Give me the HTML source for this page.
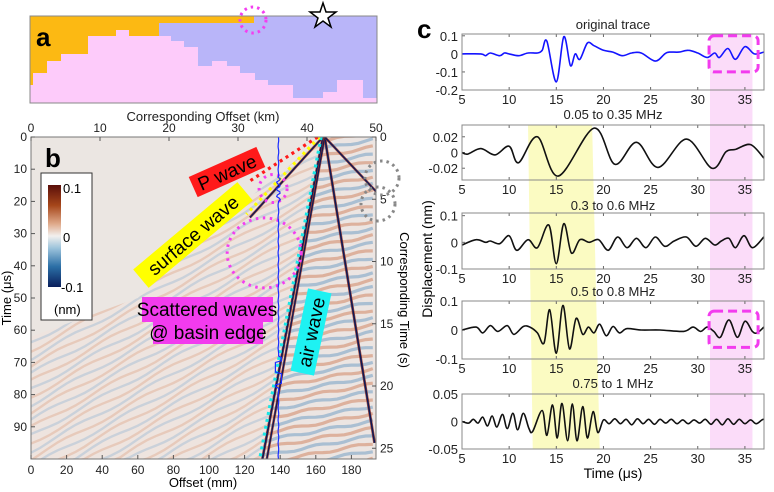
<!DOCTYPE html>
<html><head><meta charset="utf-8">
<style>
html,body{margin:0;padding:0;background:#fff;width:774px;height:492px;overflow:hidden;}
svg{display:block;font-family:"Liberation Sans",Arial,sans-serif;}
</style></head>
<body>
<svg id="fig" width="774" height="492" viewBox="0 0 774 492" xmlns="http://www.w3.org/2000/svg">
<defs>
  <linearGradient id="cbar" x1="0" y1="0" x2="0" y2="1">
    <stop offset="0" stop-color="#5a0f0a"/>
    <stop offset="0.2" stop-color="#a6461a"/>
    <stop offset="0.38" stop-color="#dfa98a"/>
    <stop offset="0.5" stop-color="#f2f0ee"/>
    <stop offset="0.62" stop-color="#9cc3db"/>
    <stop offset="0.8" stop-color="#2b6fa6"/>
    <stop offset="1" stop-color="#0a1f5c"/>
  </linearGradient>
  <clipPath id="bclip"><rect x="31" y="137" width="345" height="322"/></clipPath>
  <clipPath id="colclip"><polygon id="colpoly" points=""/></clipPath>
  <clipPath id="wedgeclip"><polygon id="wedgepoly" points=""/></clipPath>
</defs>

<!-- Panel a -->
<g id="panelA">
  <rect x="30" y="16" width="347" height="87" fill="#b9b5f9"/>
  <polygon fill="#fcb913" points="30,16 254,16 254,23 159,23 159,103 30,103"/>
  <polygon fill="#fdcbfa"
   points="30,103 30,85 33,85 33,73 47,73 47,61 61,61 61,54 88,54 88,36 116,36 116,30 129,30 129,36 171,36 171,41 184,41 184,47 198,47 198,66 212,66 212,61 227,61 227,66 240,66 240,73 255,73 255,80 268,80 268,85 293,85 293,98 323,98 323,92 337,92 337,80 363,80 363,98 377,98 377,103"/>
  <rect x="30" y="16" width="347" height="87" fill="none" stroke="#888" stroke-width="1"/>
  <text x="36" y="46" font-size="26" font-weight="bold">a</text>
  <circle cx="253" cy="20" r="13" fill="none" stroke="#f33ef0" stroke-width="3" stroke-dasharray="2.5,4"/>
  <polygon fill="#fff" stroke="#000" stroke-width="1.5"
   points="323,3 326,12 336,12 328,18 331,27 323,21 315,27 318,18 310,12 320,12"/>
  <text x="203" y="121" font-size="13" text-anchor="middle" fill="#222">Corresponding Offset (km)</text>
</g>

<!-- Panel b -->
<g id="panelB">
  <rect x="31" y="137" width="345" height="322" fill="#ebe6e2"/>
  <g id="heat" clip-path="url(#bclip)"></g>
  <g id="events" clip-path="url(#bclip)"></g>
  <rect x="31" y="137" width="345" height="322" fill="none" stroke="#777" stroke-width="1"/>
  <g id="baxes"></g>
  <text x="45" y="167" font-size="26" font-weight="bold">b</text>
  <g>
    <rect x="41" y="173" width="51" height="147" fill="#fff" stroke="#333" stroke-width="1"/>
    <rect x="48" y="185" width="13" height="102" fill="url(#cbar)"/>
    <text x="63" y="193" font-size="13">0.1</text>
    <text x="63" y="242" font-size="13">0</text>
    <text x="61" y="292" font-size="13">-0.1</text>
    <text x="54" y="314" font-size="13">(nm)</text>
  </g>
  <g transform="translate(227,172) rotate(-24)">
    <rect x="-37" y="-11" width="74" height="22" fill="#ff1a1a"/>
    <text x="0" y="7" font-size="19" text-anchor="middle">P wave</text>
  </g>
  <g transform="translate(193,235) rotate(-40)">
    <rect x="-68" y="-12" width="136" height="24" fill="#ffff00"/>
    <text x="0" y="7" font-size="19" text-anchor="middle">surface wave</text>
  </g>
  <g transform="translate(311,332) rotate(-78)">
    <rect x="-42" y="-12" width="84" height="24" fill="#1ef2f2"/>
    <text x="0" y="7" font-size="19" text-anchor="middle">air wave</text>
  </g>
  <g>
    <rect x="142" y="297" width="131" height="25" fill="#f23bee"/>
    <rect x="153" y="321" width="110" height="23" fill="#f23bee"/>
    <text x="207" y="316" font-size="19" text-anchor="middle">Scattered waves</text>
    <text x="208" y="339" font-size="19" text-anchor="middle">@ basin edge</text>
  </g>
  <text transform="translate(11,298) rotate(-90)" font-size="13" text-anchor="middle">Time (μs)</text>
  <text x="203" y="487" font-size="13" text-anchor="middle">Offset (mm)</text>
  <text transform="translate(400,300) rotate(90)" font-size="13" text-anchor="middle">Corresponding Time (s)</text>
</g>

<!-- Panel c -->
<g id="panelC">
  <text x="417" y="38" font-size="26" font-weight="bold">c</text>
  <g id="cbands"></g>
  <g id="cplots"></g>
  <text transform="translate(432,259) rotate(-90)" font-size="14" text-anchor="middle">Displacement (nm)</text>
  <text x="613" y="478" font-size="14" text-anchor="middle">Time (μs)</text>
</g>
</svg>

<script>
// ---------- Panel c data (time µs, displacement nm) ----------
const traceOrigT = [5,7,7.5,8,9,9.5,10,11,12,13,13.5,14,15,15.8,16.5,17,17.5,18.3,19,20,21,22,23,24,25.5,26.5,27,28,29,30,31,31.8,32.3,33.2,34,35,36,37];
const traceOrigV = [0,0,-0.01,0.005,-0.01,0.005,0,-0.01,0.005,0.005,0.02,0.07,-0.155,0.095,-0.065,0,-0.03,0.06,0.045,0.02,0.01,-0.01,0.005,0.005,-0.04,0,0.01,0.01,0.02,0.005,-0.02,0.005,-0.02,0.03,-0.03,0.04,0,0.01];
const traceLowT = [5,5.6,7,8.5,10,11,13,15.2,19,21.2,23.5,25.8,28.8,31.5,33,34,35.6,37];
const traceLowV = [0,-0.002,0.005,-0.003,0.008,-0.013,0.02,-0.03,0.031,-0.015,0.013,-0.019,0.017,-0.02,0.001,0.004,0.01,-0.007];
const traceMidT = [5,6.5,7.5,8,9,10,10.8,12,13,14.2,15,15.8,16.6,17.5,18.5,19.5,20.5,21.5,22.5,23.5,24.5,25.5,26.5,27.5,28.8,29.8,30.8,31.8,32.5,33.3,34,34.9,35.8,37];
const traceMidV = [-0.01,0.01,0,0.005,-0.005,0.025,-0.03,0.01,-0.02,0.065,-0.08,0.07,-0.04,0.01,0,0.01,-0.03,0.02,-0.02,0.015,-0.02,0.02,-0.015,0.005,0.02,-0.015,0.015,-0.01,0.005,0.015,-0.02,0.025,-0.02,0.02];
const traceHighT = [5,6.5,7.2,8,8.8,9.8,10.5,11.5,12.2,13,13.7,14.3,15,15.7,16.4,17.1,17.8,18.4,19,19.6,20.3,21,21.7,22.5,24,26,28.5,29.5,30.3,31,31.7,32.4,33.3,34.2,35,35.8,36.3,37];
const traceHighV = [0,0.01,-0.01,0.015,-0.005,0.015,-0.015,0.012,0.01,-0.01,-0.045,0.07,-0.08,0.085,-0.065,0.04,-0.015,0.01,-0.01,0.02,-0.02,0.012,-0.01,0.005,0,0,-0.005,0.01,-0.005,0.01,-0.005,-0.025,0.035,-0.025,0.03,-0.005,-0.01,0.01];
const traceTopT = [5,5.7,6.2,6.7,7.2,7.7,8.2,8.7,9.3,9.8,10.4,10.9,11.5,12.1,12.5,13.5,14,14.6,15.1,15.6,16.2,16.7,17.2,17.8,18.3,18.9,19.4,20,20.6,21.2,21.8,22.4,23,23.6,24.2,24.8,25.4,26,26.6,27.2,27.8,28.4,29,29.6,30.2,30.8,31.4,32,32.6,33.2,33.8,34.4,35,35.6,36.2,36.8,37];
const traceTopV = [0,-0.003,0.004,-0.003,0.008,-0.008,0.01,-0.01,0.013,-0.013,0.015,-0.015,0.015,-0.013,-0.018,0.02,-0.025,0.03,-0.03,0.033,-0.035,0.032,-0.035,0.027,-0.03,0.018,-0.02,0.003,-0.004,0.005,-0.004,0.004,-0.006,0.005,-0.004,0.004,-0.005,0.004,-0.003,0.004,-0.004,0.003,-0.004,0.003,-0.003,0.004,-0.005,0.004,-0.006,0.005,-0.005,0.004,-0.004,0.003,-0.004,0.003,0.004];
const subTitles = ["original trace","0.05 to 0.35 MHz","0.3 to 0.6 MHz","0.5 to 0.8 MHz","0.75 to 1 MHz"];
const xTicksC = [5,10,15,20,25,30,35];
const yTicksC = [[0.1,0,-0.1,-0.2],[0.02,0,-0.02],[0.1,0,-0.1],[0.1,0,-0.1],[0.05,0,-0.05]];
const yTickLabelsC = [["0.1","0","-0.1","-0.2"],["0.02","0","-0.02"],["0.1","0","-0.1"],["0.1","0","-0.1"],["0.05","0","-0.05"]];
const yRangesC = [[-0.2,0.11],[-0.035,0.035],[-0.1,0.11],[-0.1,0.1],[-0.05,0.05]];
const yellowBand = [[12,18.8],[12.5,19.6]];
const pinkBand = [31.3,35.8];
const dashBoxT = [31.2,36.4];
const dashBoxV = [[-0.1,0.1],[-0.06,0.065]];

// ---------- Panel b data ----------
const offTicks = [0,20,40,60,80,100,120,140,160,180];
const kmTicks = [0,10,20,30,40,50];
const timeTicks = [0,10,20,30,40,50,60,70,80,90];
const secTicks = [0,5,10,15,20,25];
const airLeft = [[164,0],[130,100]];
const airLeft2 = [[165,0],[132.5,100]];
const airRight = [[165,0],[193,95]];
const pLeft = [[164,0],[123,25]];
const pRight = [[165,0],[194,17]];
const traceOffset = 139;

const NS="http://www.w3.org/2000/svg";
function mk(tag, attrs, parent){const e=document.createElementNS(NS,tag);for(const k in attrs)e.setAttribute(k,attrs[k]);parent.appendChild(e);return e;}

const bx=mm=>31+mm*1.78, by=us=>137+us*3.22, bkm=km=>31+km*6.9, bs=s=>137+s*12.45;
const clampY=y=>Math.max(135,Math.min(461,y));
const baxes=document.getElementById('baxes');
offTicks.forEach(v=>{mk('line',{x1:bx(v),x2:bx(v),y1:459,y2:455,stroke:'#555'},baxes);const t=mk('text',{x:bx(v),y:474,'font-size':12,'text-anchor':'middle',fill:'#222'},baxes);t.textContent=v;

});
kmTicks.forEach(v=>{mk('line',{x1:bkm(v),x2:bkm(v),y1:137,y2:141,stroke:'#555'},baxes);const t=mk('text',{x:bkm(v),y:132,'font-size':12,'text-anchor':'middle',fill:'#222'},baxes);t.textContent=v;

});
timeTicks.forEach(v=>{mk('line',{x1:31,x2:35,y1:by(v),y2:by(v),stroke:'#555'},baxes);const t=mk('text',{x:27,y:by(v)+4,'font-size':12,'text-anchor':'end',fill:'#222'},baxes);t.textContent=v;

});
secTicks.forEach(v=>{mk('line',{x1:372,x2:376,y1:bs(v),y2:bs(v),stroke:'#555'},baxes);const t=mk('text',{x:380,y:bs(v)+4,'font-size':12,fill:'#222'},baxes);t.textContent=v;

});

// heatmap texture
const heat=document.getElementById('heat');
const colPts=[[bx(165),by(0)],[bx(120),by(20)],[bx(60),by(50)],[bx(0),by(62)],[bx(0),by(100)],[bx(194),by(100)],[bx(194),by(0)]];
document.getElementById('colpoly').setAttribute('points',colPts.map(p=>p.join(',')).join(' '));
const wedgePts=[[bx(165),by(0)],[bx(130),by(100)],[bx(193),by(100)],[bx(194),by(0)]];
document.getElementById('wedgepoly').setAttribute('points',wedgePts.map(p=>p.join(',')).join(' '));
const gFaint=mk('g',{'clip-path':'url(#colclip)'},heat);
mk('rect',{x:31,y:137,width:345,height:322,fill:'#eee4df'},gFaint);
for(let k=-22;k<42;k++){
  const t0=k*2.4;
  let d='';
  for(let mm=0;mm<=194;mm+=5){const t=t0+(165-mm)*0.3+0.6*Math.sin(mm/7+k);d+=(mm?'L':'M')+bx(mm).toFixed(1)+','+clampY(by(t)).toFixed(1);}
  mk('path',{d:d,fill:'none',stroke:(k%2?'#d7875f':'#6fa3cc'),'stroke-width':2.4,opacity:0.28},gFaint);
}
const gW=mk('g',{'clip-path':'url(#wedgeclip)'},heat);
mk('rect',{x:31,y:137,width:345,height:322,fill:'#ece5e2'},gW);
for(let k=-4;k<44;k++){
  const t0=k*2.3;
  let d='';
  for(let mm=120;mm<=194;mm+=4){const t=t0+(200-mm)*0.1+0.4*Math.sin(mm/4+k);d+=(mm>120?'L':'M')+bx(mm).toFixed(1)+','+clampY(by(t)).toFixed(1);}
  mk('path',{d:d,fill:'none',stroke:(Math.abs(k)%2?'#c9683f':'#4f8bbd'),'stroke-width':3.2,opacity:0.42},gW);
}

// wave events
const ev=document.getElementById('events');
function evLine(seg,name,w){
  const a=seg[0],b=seg[1];
  mk('line',{x1:bx(a[0]),y1:by(a[1]),x2:bx(b[0]),y2:by(b[1]),stroke:'#9a2a1a','stroke-width':w+1.2,opacity:0.8},ev);
  const l=mk('line',{x1:bx(a[0]),y1:by(a[1]),x2:bx(b[0]),y2:by(b[1]),stroke:'#101a55','stroke-width':w},ev);
  
  
}
evLine(airLeft,'air-wave-left',1.6);
evLine(airLeft2,'air-wave-left-2',1.3);
evLine(airRight,'air-wave-right',1.6);
evLine(pLeft,'p-wave-left',1.4);
evLine(pRight,'p-wave-right',1.4);
function dots(a,b,color,name){const l=mk('line',{x1:bx(a[0]),y1:by(a[1]),x2:bx(b[0]),y2:by(b[1]),stroke:color,'stroke-width':3.2,'stroke-dasharray':'3,4'},ev);

}
dots([163,0],[128.5,100],'#19e6e6','air-wave-guide');
dots([162,0],[121,24],'#ffff00','surface-wave-guide');
dots([161,0],[122,14],'#ff1a1a','p-wave-guide');
const c1=mk('circle',{cx:bx(136),cy:by(16),r:14,fill:'none',stroke:'#f33ef0','stroke-width':3,'stroke-dasharray':'2.5,4.5'},ev);


const c2=mk('ellipse',{cx:bx(131),cy:by(36),rx:37,ry:35,fill:'none',stroke:'#f33ef0','stroke-width':3,'stroke-dasharray':'2.5,4.5'},ev);


const gArc=document.getElementById('panelB');
const ga1=mk('circle',{cx:382,cy:178,r:17,fill:'none',stroke:'#888','stroke-width':3,'stroke-dasharray':'2.5,4'},gArc);


const ga2=mk('circle',{cx:378,cy:204,r:17,fill:'none',stroke:'#888','stroke-width':3,'stroke-dasharray':'2.5,4'},gArc);


let bd='M'+bx(traceOffset)+','+by(0);
for(let t=0;t<=100;t+=0.5){let v=0.3*Math.sin(t*1.7);if(t>12&&t<20)v=2*Math.sin(t*3);if(t>68&&t<78)v=-3*Math.sign(Math.sin(t*0.9));bd+='L'+(bx(traceOffset)+v).toFixed(1)+','+by(t).toFixed(1);}
const bt=mk('path',{d:bd,fill:'none',stroke:'#1a2cff','stroke-width':1.2},ev);



// ---------- panel c ----------
const cx=t=>462+(t-5)*9.43;
const plotsY=[[34,90],[125,180],[213,269],[301,359],[394,449]];
const titleY=[29,119,210,296,388];
const traces=[[traceOrigT,traceOrigV],[traceLowT,traceLowV],[traceMidT,traceMidV],[traceHighT,traceHighV],[traceTopT,traceTopV]];
const cb=document.getElementById('cbands'), cp=document.getElementById('cplots');
const yb=mk('polygon',{points:`${cx(yellowBand[0][0])},125 ${cx(yellowBand[0][1])},125 ${cx(yellowBand[1][1])},449 ${cx(yellowBand[1][0])},449`,fill:'#fbfbc2'},cb);


const pb=mk('rect',{x:cx(pinkBand[0]),y:34,width:cx(pinkBand[1])-cx(pinkBand[0]),height:415,fill:'#fbdcf9'},cb);



function smooth(pts){let d='M'+pts[0][0].toFixed(1)+','+pts[0][1].toFixed(1);
  for(let i=0;i<pts.length-1;i++){const p0=pts[i-1]||pts[i],p1=pts[i],p2=pts[i+1],p3=pts[i+2]||p2;
    const c1x=p1[0]+(p2[0]-p0[0])/6,c1y=p1[1]+(p2[1]-p0[1])/6,c2x=p2[0]-(p3[0]-p1[0])/6,c2y=p2[1]-(p3[1]-p1[1])/6;
    d+=`C${c1x.toFixed(1)},${c1y.toFixed(1)} ${c2x.toFixed(1)},${c2y.toFixed(1)} ${p2[0].toFixed(1)},${p2[1].toFixed(1)}`;}
  return d;}

plotsY.forEach((py,i)=>{
  const [top,bot]=py, [lo,hi]=yRangesC[i];
  const sy=v=>bot-(v-lo)/(hi-lo)*(bot-top);
  const g=mk('g',{},cp);
  
  
  const tt=mk('text',{x:613,y:titleY[i],'font-size':13,'text-anchor':'middle',fill:'#222'},g);tt.textContent=subTitles[i];
  
  
  xTicksC.forEach(v=>{mk('line',{x1:cx(v),x2:cx(v),y1:bot,y2:bot-3,stroke:'#666'},g);mk('line',{x1:cx(v),x2:cx(v),y1:top,y2:top+3,stroke:'#666'},g);
    const t=mk('text',{x:cx(v),y:bot+14,'font-size':13,'text-anchor':'middle',fill:'#222'},g);t.textContent=v;
    
    });
  yTicksC[i].forEach((v,j)=>{mk('line',{x1:462,x2:465,y1:sy(v),y2:sy(v),stroke:'#666'},g);
    const t=mk('text',{x:458,y:sy(v)+5,'font-size':13,'text-anchor':'end',fill:'#222'},g);t.textContent=yTickLabelsC[i][j];
    
    });
  const [T,V]=traces[i];
  const pts=T.map((t,k)=>[cx(t),sy(V[k])]);
  const p=mk('path',{d:smooth(pts),fill:'none',stroke:(i==0?'#1414ff':'#111'),'stroke-width':1.6},g);
  
  
  mk('rect',{x:462,y:top,width:302,height:bot-top,fill:'none',stroke:'#888','stroke-width':1},g);
  if(i==0||i==3){const bv=dashBoxV[i==0?0:1];
    const r=mk('rect',{x:cx(dashBoxT[0]),y:sy(bv[1]),width:cx(dashBoxT[1])-cx(dashBoxT[0]),height:sy(bv[0])-sy(bv[1]),rx:5,fill:'none',stroke:'#f23bee','stroke-width':3,'stroke-dasharray':'9,5'},g);
    
    }
});
</script>
</body></html>
